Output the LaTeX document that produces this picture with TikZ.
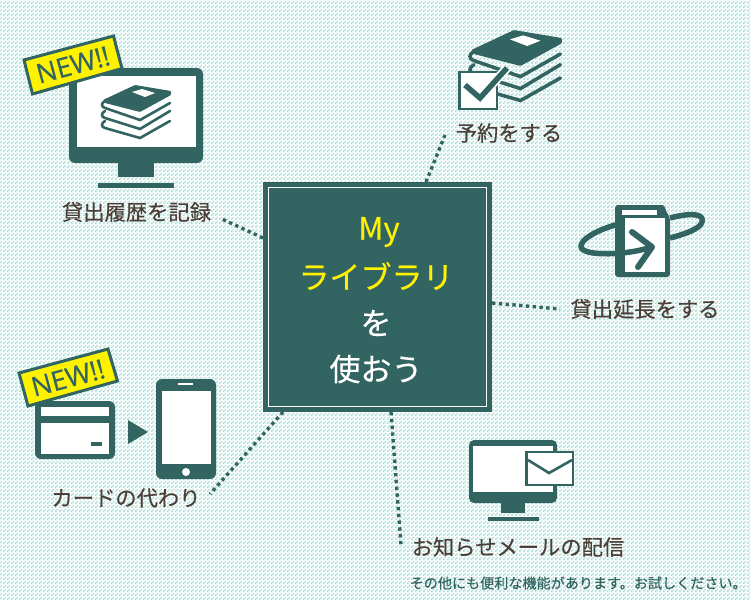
\documentclass[tikz,border=0pt]{standalone}
\usepackage{fontspec}
\setmainfont[FakeBold=0.35]{Noto Sans CJK JP}
\newfontfamily\latinfont[FakeBold=0.6]{Open Sans}
\usetikzlibrary{shapes,arrows,positioning,calc,patterns,arrows.meta}
\definecolor{teal}{HTML}{326562}
\definecolor{paperdot}{HTML}{A3E0DA}
\definecolor{ink}{HTML}{4A4038}
\definecolor{badge}{HTML}{FFF200}
\definecolor{mainyellow}{HTML}{FFF100}
\pgfdeclarepatternformonly{checkdots}{\pgfpointorigin}{\pgfqpoint{4pt}{4pt}}{\pgfqpoint{4pt}{4pt}}{%
    \pgfpathrectangle{\pgfpointorigin}{\pgfqpoint{2pt}{2pt}}%
    \pgfpathrectangle{\pgfqpoint{2pt}{2pt}}{\pgfqpoint{2pt}{2pt}}%
    \pgfusepath{fill}}

\tikzset{
    label/.style={text=ink, font=\fontsize{21.3}{21.3}\selectfont, inner sep=0pt},
    maintext/.style={font=\fontsize{31}{31}\selectfont, inner sep=0pt},
    link/.style={teal, line width=3.4pt, dash pattern=on 3.4pt off 3.4pt},
    badgebox/.style={draw=teal, fill=badge, line width=3pt, miter limit=10},
    newtext/.style={text=teal, font=\latinfont\fontsize{27}{27}\selectfont, inner sep=0pt},
    pics/bookstack/.style={code={
        \fill[teal, rounded corners=1pt] (1,0) -- (33,-15) -- (69,-9) -- (69,-5) -- (38,12) -- (3,3) -- cycle;
        \fill[white] (30,-8) -- (40,-11) -- (53,-7) -- (43,-3) -- cycle;
        \draw[teal, line cap=round] (3,1) .. controls (-1,3) and (-1,7) .. (3,8) -- (38,20) -- (68,3);
        \draw[teal, line cap=round] (3,11) .. controls (-1,13) and (-1,17) .. (3,18) -- (38,29) -- (68,11);
        \draw[teal, line cap=round] (3,21) .. controls (-1,23) and (-1,27) .. (3,28) -- (38,38) -- (68,21);
    }}
}

\begin{document}
\begin{tikzpicture}[x=1pt, y=-1pt]
    % background
    \fill[white] (0,0) rectangle (750,600);
    \fill[pattern=checkdots, pattern color=paperdot] (0,0) rectangle (750,600);
    \useasboundingbox (0,0) rectangle (750,600);

    % centre box
    \node[fill=teal, minimum width=229pt, minimum height=230pt, inner sep=0pt] (mainbox) at (377.5,297) {};
    \node[draw=white, line width=1.5pt, minimum width=218pt, minimum height=219pt, inner sep=0pt] (mainframe) at (377.5,297) {};
    \node[maintext, text=mainyellow] (myword) at (379,232) {My};
    \node[maintext, text=mainyellow] (libword) at (376,276) {ライブラリ};
    \node[maintext, text=white] (woword) at (376,323) {を};
    \node[maintext, text=white] (useword) at (376,369) {使おう};

    % labels
    \node[label] (history) at (136.5,212) {貸出履歴を記録};
    \node[label] (reserve) at (509,133) {予約をする};
    \node[label] (extend) at (645,309) {貸出延長をする};
    \node[label] (mailnews) at (518,547) {お知らせメールの配信};
    \node[label] (cardswap) at (126,498) {カードの代わり};
    \node[text=teal, font=\fontsize{14.1}{14}\selectfont, inner sep=0pt, anchor=west] (note) at (409.5,583) {その他にも便利な機能があります。お試しください。};

    % dotted links
    \coordinate (historyend) at (222,219);
    \coordinate (reserveend) at (445,135);
    \coordinate (extendend) at (560,309);
    \coordinate (mailend) at (401,545);
    \coordinate (cardend) at (210,494);
    \coordinate (boxleft) at (263,238);
    \coordinate (boxtop) at (426,182);
    \coordinate (boxright) at (492,303);
    \coordinate (boxbottom) at (391,412);
    \coordinate (boxcorner) at (283,412);
    \draw[link] (boxleft) -- (historyend);
    \draw[link] (boxtop) -- (reserveend);
    \draw[link] (boxright) -- (extendend);
    \draw[link] (boxbottom) -- (mailend);
    \draw[link] (boxcorner) -- (cardend);

    % history monitor
    \fill[teal, rounded corners=6pt] (69,68) rectangle (203,163);
    \fill[white] (77,76) rectangle (196,147);
    \fill[teal] (118,163) rectangle (154,177);
    \fill[teal] (98,183) rectangle (174,188);
    \pic[line width=2.6pt] at (102,100) {bookstack};
    \draw[badgebox] (24,60) -- (113.5,36) -- (122,68.5) -- (32.5,94) -- cycle;
    \node[newtext, rotate=15] (newone) at (73,65) {NEW!!};

    % reserve books
    \pic[line width=3.5pt, scale=1.33] at (470,50) {bookstack};
    \draw[teal, fill=white, line width=2.6pt] (459.5,72) rectangle (497,109);
    \draw[white, line width=9pt] (480,98) -- (507,68);
    \draw[teal, line width=5.5pt] (465,85) -- (480,98) -- (507,68);

    % return book
    \fill[teal, rounded corners=3pt] (615,205) -- (665,205) -- (665,209) -- (670,218) -- (670,277) -- (615,277) -- cycle;
    \fill[white] (622,210) rectangle (657,215);
    \fill[white] (625,218) rectangle (665,272);
    \draw[teal, line width=5.5pt, line cap=round, line join=round] (615,225) .. controls (595,231) and (580,240) .. (581,247) .. controls (583,257) and (630,255) .. (651,247);
    \draw[teal, line width=5.5pt] (670,218) .. controls (697,211) and (704,216) .. (702,222) .. controls (700,229) and (685,234) .. (670,238);
    \draw[teal, line width=6pt, line cap=round, line join=round] (632,232) -- (652,247) -- (638,267);

    % mail monitor
    \fill[teal, rounded corners=5pt] (469,440) rectangle (557,503);
    \fill[white] (473,446) rectangle (553,492);
    \fill[teal] (501,503) rectangle (525,513);
    \fill[teal] (488,517) rectangle (539,521);
    \draw[teal, fill=white, line width=2.6pt] (526.5,452) rectangle (573,485);
    \draw[teal, line width=2.6pt] (528,460) -- (549,473) -- (572,460);

    % card and phone
    \fill[teal, rounded corners=6pt] (35,401) rectangle (115,459);
    \fill[white] (41,407) rectangle (109,416);
    \fill[white] (41,423) rectangle (109,454);
    \fill[teal] (91,442) rectangle (102,446);
    \fill[teal] (128,420) -- (148,432) -- (128,444) -- cycle;
    \fill[teal, rounded corners=6pt] (156,379) rectangle (216,479);
    \fill[white] (162,391) rectangle (211,464);
    \fill[white] (178,383) rectangle (193,385);
    \fill[white] (186,472) circle (4);
    \draw[badgebox] (19,373) -- (108,349) -- (117.5,381) -- (28,406) -- cycle;
    \node[newtext, rotate=15] (newtwo) at (68,378) {NEW!!};
\end{tikzpicture}
\end{document}
